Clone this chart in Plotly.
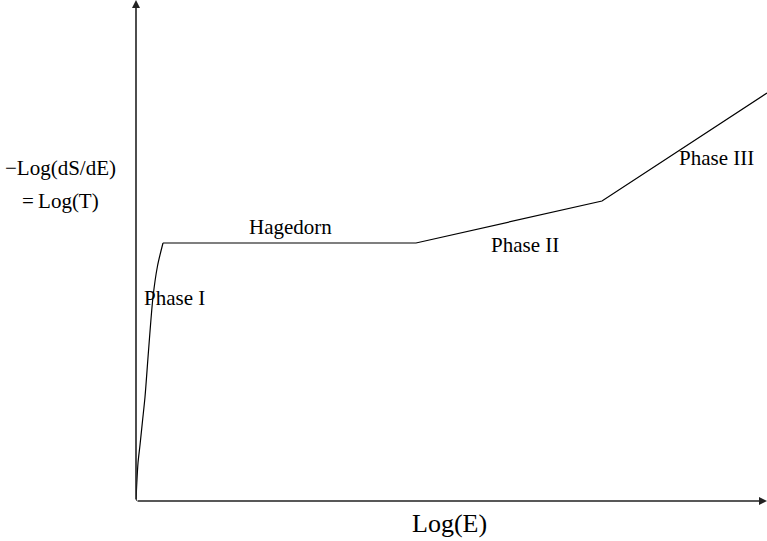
import plotly.graph_objects as go

# Data (arbitrary units: x = log(E), y = log(T))
curve_x = [0, 0.8, 2, 4, 6.5, 9, 12.5, 17, 21.5, 27]
curve_y = [0, 18, 38, 56, 80, 104, 150, 204, 235, 258]

seg_x = [27, 280, 466, 631]
seg_y = [258, 258, 300, 408]

labels = ["Hagedorn", "Phase I", "Phase II", "Phase III"]
label_x = [154, 38, 389, 580]
label_y = [274, 203, 256, 343]

X_MAX = 631
Y_MAX = 501

fig = go.Figure()
fig.add_trace(go.Scatter(x=curve_x, y=curve_y, mode="lines",
                         line=dict(color="black", width=1.2, shape="spline", smoothing=0.8),
                         hoverinfo="skip", showlegend=False))
fig.add_trace(go.Scatter(x=seg_x, y=seg_y, mode="lines",
                         line=dict(color="black", width=1.2),
                         hoverinfo="skip", showlegend=False))

font = dict(family="Liberation Serif", size=21, color="black")
ann = []
# axes with arrows
ann.append(dict(x=0, y=Y_MAX, ax=0, ay=0, xref="x", yref="y", axref="x", ayref="y",
                showarrow=True, arrowhead=2, arrowsize=1.0, arrowwidth=1.6,
                arrowcolor="#222", text=""))
ann.append(dict(x=X_MAX, y=0, ax=0, ay=0, xref="x", yref="y", axref="x", ayref="y",
                showarrow=True, arrowhead=2, arrowsize=1.0, arrowwidth=1.6,
                arrowcolor="#222", text=""))
for t, lx, ly in zip(labels, label_x, label_y):
    ann.append(dict(x=lx, y=ly, xref="x", yref="y", text=t, showarrow=False, font=font,
                    xanchor="center", yanchor="middle"))

# paper coordinates for labels outside the plotting area
def px_to_paper(x_px, y_px):
    return (x_px - 136) / 631.0, (501 - y_px) / 501.0

for txt, xp, yp, sz in [("\u2212Log(dS/dE)", 60, 168, 21),
                        ("=\u2009Log(T)", 60, 201, 21),
                        ("Log(E)", 449, 523, 26)]:
    px, py = px_to_paper(xp, yp)
    ann.append(dict(x=px, y=py, xref="paper", yref="paper", text=txt, showarrow=False,
                    xanchor="center", yanchor="middle",
                    font=dict(family="Liberation Serif", size=sz, color="black")))

fig.update_layout(
    width=767, height=541,
    margin=dict(l=136, r=0, t=0, b=40),
    paper_bgcolor="white", plot_bgcolor="white",
    xaxis=dict(range=[0, X_MAX], visible=False),
    yaxis=dict(range=[0, Y_MAX], visible=False),
    annotations=ann,
)
fig.write_html("out.html", config={"displayModeBar": False},
               post_script="document.body.style.margin='0';")
